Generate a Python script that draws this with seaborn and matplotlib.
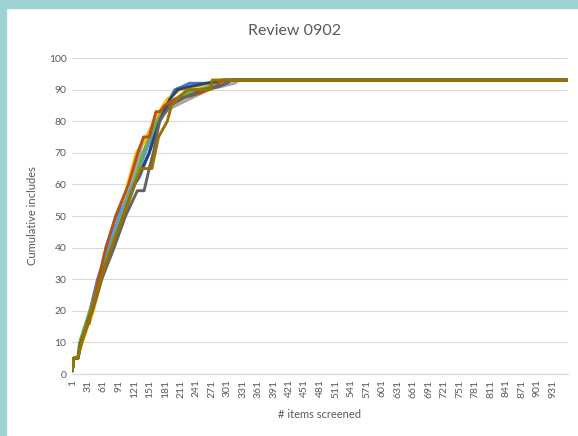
import matplotlib
matplotlib.use("Agg")
import matplotlib.pyplot as plt
import seaborn as sns
import pandas as pd
from matplotlib.patches import Rectangle

# breakpoints: (item number, cumulative includes)
s1_x = [1, 4, 12, 16, 35, 50, 58, 62, 66, 86, 112, 130, 150, 165, 185, 200, 215, 228, 300, 302, 960]
s1_y = [1, 5, 5, 9, 20, 30, 34, 34, 40, 50, 58, 62, 70, 80, 86, 90, 91, 92, 92, 93, 93]
s2_x = [1, 4, 12, 16, 38, 55, 75, 96, 118, 138, 162, 185, 210, 245, 260, 280, 295, 960]
s2_y = [1, 5, 5, 9, 20, 30, 40, 50, 60, 70, 80, 85, 88, 89, 90, 91, 93, 93]
s3_x = [1, 4, 12, 16, 37, 54, 74, 96, 116, 135, 160, 190, 215, 240, 265, 290, 315, 324, 960]
s3_y = [1, 5, 5, 9, 20, 30, 40, 50, 60, 72, 80, 84, 86, 88, 90, 91, 92, 93, 93]
s4_x = [1, 4, 12, 18, 42, 58, 78, 95, 108, 125, 145, 165, 185, 210, 240, 268, 272, 960]
s4_y = [1, 5, 5, 9, 20, 30, 40, 50, 60, 70, 75, 82, 87, 90, 91, 92, 93, 93]
s5_x = [1, 4, 12, 16, 36, 52, 72, 92, 118, 140, 165, 190, 220, 250, 280, 292, 960]
s5_y = [1, 5, 5, 9, 20, 30, 40, 50, 60, 69, 80, 86, 89, 90, 92, 93, 93]
s6_x = [1, 4, 12, 15, 35, 55, 76, 98, 120, 138, 165, 180, 200, 240, 270, 285, 290, 960]
s6_y = [1, 5, 5, 10, 20, 30, 40, 50, 60, 70, 80, 84, 87, 90, 91, 92, 93, 93]
s7_x = [1, 4, 12, 16, 38, 55, 78, 100, 122, 150, 170, 190, 205, 230, 260, 298, 960]
s7_y = [1, 5, 5, 9, 20, 30, 40, 50, 60, 70, 80, 87, 90, 91, 92, 93, 93]
s8_x = [1, 4, 12, 17, 38, 52, 63, 85, 110, 128, 139, 150, 163, 171, 180, 200, 230, 250, 265, 280, 290, 960]
s8_y = [1, 5, 5, 9, 20, 30, 38, 50, 60, 70, 75, 75, 83, 83, 85, 87, 88, 89, 90, 91, 93, 93]
s9_x = [1, 4, 12, 17, 40, 58, 82, 104, 127, 140, 150, 158, 170, 190, 225, 255, 285, 300, 310, 960]
s9_y = [1, 5, 5, 9, 20, 30, 40, 50, 58, 58, 65, 70, 80, 85, 88, 90, 91, 92, 93, 93]
s10_x = [1, 4, 12, 16, 30, 34, 38, 56, 77, 100, 122, 134, 155, 168, 185, 193, 210, 224, 268, 272, 960]
s10_y = [1, 5, 5, 8, 16, 16, 20, 30, 40, 50, 60, 65, 65, 75, 80, 85, 88, 90, 90, 93, 93]

series = [(s1_x, s1_y), (s2_x, s2_y), (s3_x, s3_y), (s4_x, s4_y), (s5_x, s5_y),
          (s6_x, s6_y), (s7_x, s7_y), (s8_x, s8_y), (s9_x, s9_y), (s10_x, s10_y)]
colors = ["#4472C4", "#ED7D31", "#A5A5A5", "#FFC000", "#5B9BD5",
          "#70AD47", "#264478", "#B4521A", "#636363", "#997300"]
tick_items = list(range(1, 961, 30))

rows = []
for k, (xs, ys) in enumerate(series):
    for x, y in zip(xs, ys):
        rows.append({"series": "S%d" % (k + 1), "item": x, "includes": y})
df = pd.DataFrame(rows)

sns.set_style("white")
plt.rcParams['font.family'] = ['Lato', 'DejaVu Sans']

fig = plt.figure(figsize=(5.78, 4.36), dpi=100)
# teal frame around the chart (left and top edges)
fig.patches.append(Rectangle((0, 0), 6 / 578, 1, transform=fig.transFigure, color="#9ED3D6", zorder=0))
fig.patches.append(Rectangle((0, 1 - 8 / 436), 1, 8 / 436, transform=fig.transFigure, color="#9ED3D6", zorder=0))

ax = fig.add_axes([72 / 578, 1 - 374 / 436, (568 - 72) / 578, (374 - 58) / 436])
sns.lineplot(data=df, x="item", y="includes", hue="series", palette=colors,
             estimator=None, legend=False, linewidth=2.1, ax=ax)

ax.set_xlim(0.5, 960.5)
ax.set_ylim(0, 100)
ax.set_yticks(range(0, 101, 10))
ax.set_xticks(tick_items)
ax.set_xticklabels([str(t) for t in tick_items], rotation=90)
ax.tick_params(axis="both", length=0, labelsize=7.5, labelcolor="#595959", pad=4)
ax.grid(axis="y", color="#D9D9D9", linewidth=0.8)
ax.set_axisbelow(True)
for s in ["top", "right", "left"]:
    ax.spines[s].set_visible(False)
ax.spines["bottom"].set_color("#D9D9D9")

ax.set_xlabel("# items screened", fontsize=8, color="#595959", labelpad=8)
ax.set_ylabel("Cumulative includes", fontsize=8, color="#595959", labelpad=8)
fig.text(295 / 578, 1 - 31 / 436, "Review 0902", ha="center", va="center",
         fontsize=11.5, color="#595959")

fig.savefig("out.png", dpi=100)
